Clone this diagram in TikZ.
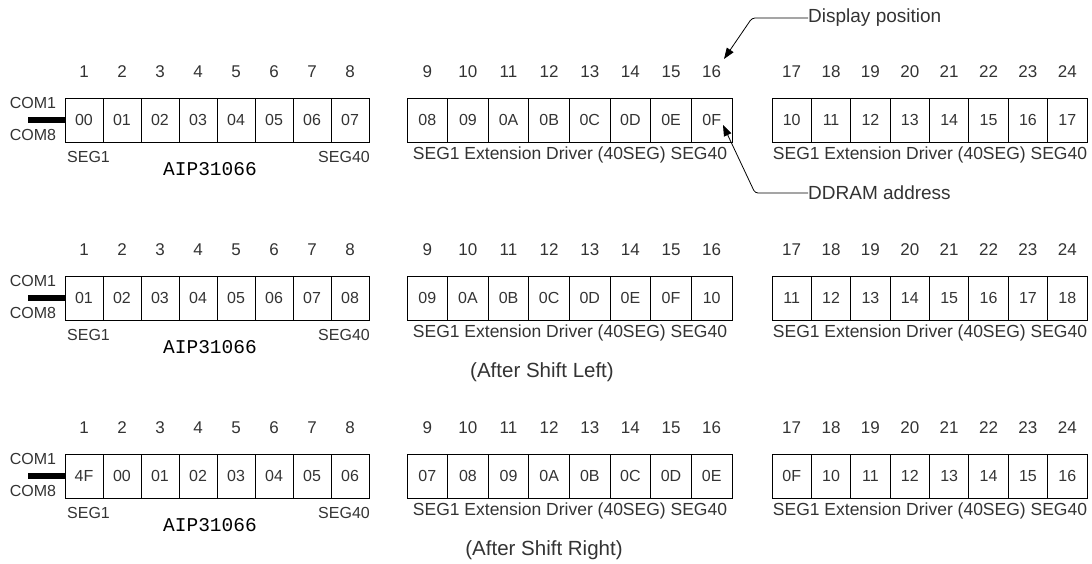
\documentclass[tikz,border=0pt]{standalone}
\usepackage{fontspec}
\setmainfont{Liberation Sans}
\newfontfamily\chipfont{Liberation Mono}
\usetikzlibrary{arrows.meta}

\begin{document}
\begin{tikzpicture}[x=1pt,y=-1pt,
    cell/.style={draw=black,line width=0.9pt,minimum height=44pt,inner sep=0pt,text=black!80,font=\fontsize{16}{18}\selectfont},
    num/.style={text=black!80,font=\fontsize{17}{19}\selectfont},
    seg/.style={text=black!80,inner sep=0pt,font=\fontsize{16}{18}\selectfont},
    ext/.style={text=black!80,inner sep=0pt,font=\fontsize{17.5}{20}\selectfont},
    after/.style={text=black!80,inner sep=0pt,font=\fontsize{20.5}{23}\selectfont},
    note/.style={text=black!80,inner sep=0pt,font=\fontsize{19}{22}\selectfont},
    chip/.style={text=black,inner sep=0pt,font=\chipfont\fontsize{19.5}{22}\selectfont}]
    \useasboundingbox (0,0) rectangle (1092,564);
    % cells: row / y / shift of the DDRAM address
    \foreach \r/\y/\s in {1/120/0,2/298/1,3/476/79}{
        \foreach \b/\xo/\w in {0/65/38,1/407/40.625,2/772/39.375}{
            \foreach \i in {1,...,8}{
                \pgfmathtruncatemacro{\k}{8*\b+\i}
                \pgfmathtruncatemacro{\n}{mod(\k-1+\s,80)}
                \pgfmathparse{Hex(\n)}\let\hx\pgfmathresult
                \node[cell,minimum width=\w pt] (c\r-\k) at ({\xo+\w*(\i-0.5)},\y) {\ifnum\n<16 0\fi\hx};
                \node[num] (n\r-\k) at ({\xo+\w*(\i-0.5)},\y-48) {\k};
            }
        }
        \coordinate (bar\r) at (28,\y);
        \draw[line width=6pt] (bar\r) -- (c\r-1.west);
        \node[seg] (com1-\r) at (33,\y-17) {COM1};
        \node[seg] (com8-\r) at (33,\y+15) {COM8};
        \node[seg,anchor=west] (sega-\r) at (67,\y+37) {SEG1};
        \node[seg,anchor=east] (segb-\r) at (370,\y+37) {SEG40};
        \node[chip] (chip-\r) at (210,\y+49) {AIP31066};
        \node[ext] (exta-\r) at (570,\y+35) {SEG1 Extension Driver (40SEG) SEG40};
        \node[ext] (extb-\r) at (930,\y+35) {SEG1 Extension Driver (40SEG) SEG40};
    }
    \node[after] (left) at (542,372) {(After Shift Left)};
    \node[after] (right) at (544,550) {(After Shift Right)};
    % pointers
    \node[note,anchor=west] (disp) at (808,18) {Display position};
    \node[note,anchor=west] (ddram) at (808,193) {DDRAM address};
    \coordinate (disptip) at (724,59);
    \coordinate (ddramtip) at (723,125);
    \draw[line width=0.8pt,rounded corners=3pt,-{Triangle[length=11pt,width=8pt]}] (disp.west) -- (752,18) -- (disptip);
    \draw[line width=0.8pt,rounded corners=3pt,-{Triangle[length=11pt,width=8pt]}] (ddram.west) -- (755,193) -- (ddramtip);
\end{tikzpicture}
\end{document}
